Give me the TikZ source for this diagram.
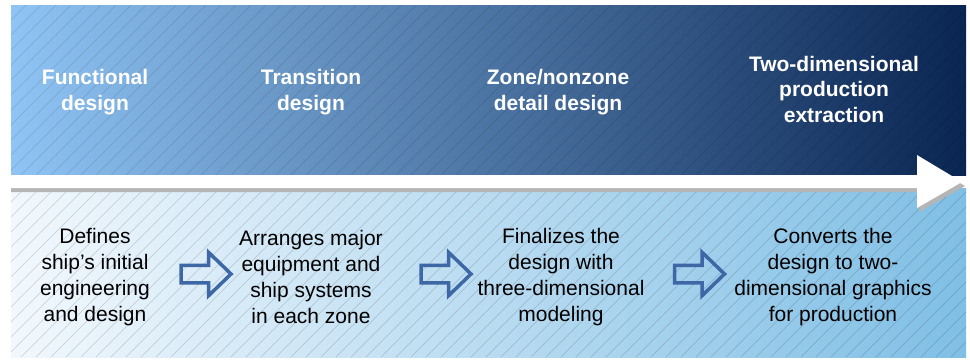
\documentclass[tikz,border=0pt]{standalone}
\usepackage{fontspec}
\setmainfont{Liberation Sans}
\usetikzlibrary{shapes.arrows}
\definecolor{topL}{HTML}{8FC4F4}
\definecolor{topM}{HTML}{4C79AB}
\definecolor{topR}{HTML}{0A2552}
\definecolor{botL}{HTML}{F2F8FD}
\definecolor{botM}{HTML}{C2E0F2}
\definecolor{botR}{HTML}{80BFE5}
\definecolor{arrowblue}{HTML}{3E67A6}
\definecolor{shadowgray}{HTML}{B5B5B5}
\begin{document}
\begin{tikzpicture}[x=1pt,y=-1pt,
 heading/.style={text=white,font=\fontsize{21}{25.5}\selectfont\bfseries,align=center,inner sep=0pt},
 body/.style={text=black,font=\fontsize{21}{26}\selectfont,align=center,inner sep=0pt},
 blockarrow/.style={single arrow,draw=arrowblue,line width=3.5pt,fill=none,
   minimum height=50pt,inner sep=0pt,inner ysep=7pt,
   single arrow head extend=13pt,single arrow tip angle=88,line join=miter},
 hatchtop/.style={draw=black,opacity=0.11,line width=0.7pt},
 hatchbot/.style={draw=black,opacity=0.17,line width=0.6pt}]
\useasboundingbox (0,0) rectangle (970,360);
\fill[white] (0,0) rectangle (970,360);
% bands
\shade[left color=topL,middle color=topM,right color=topR] (11,5) rectangle (966,175);
\shade[left color=botL,middle color=botM,right color=botR] (11,188) rectangle (966,357);
\begin{scope}
\clip (11,5) rectangle (966,175);
\foreach \k in {0,...,76} \draw[hatchtop] ({11+\k*15-170},175) -- ++(170,-170);
\end{scope}
\begin{scope}
\clip (11,188) rectangle (966,357);
\foreach \k in {0,...,76} \draw[hatchbot] ({11+\k*15-170},357) -- ++(170,-170);
\end{scope}
% big white timeline arrow with shadow
\fill[shadowgray] (11,179) -- (919,179) -- (919,159) -- (965,186) -- (919,212) -- (919,192) -- (11,192) -- cycle;
\fill[white] (11,175) -- (917,175) -- (917,155) -- (962,182) -- (917,208) -- (917,188) -- (11,188) -- cycle;
% headings
\node[heading] (h1) at (95,92) {Functional\\design};
\node[heading] (h2) at (311,92) {Transition\\design};
\node[heading] (h3) at (558,92) {Zone/nonzone\\detail design};
\node[heading] (h4) at (834,89) {Two-dimensional\\production\\extraction};
% descriptions
\node[body] (b1) at (95,277) {Defines\\ship’s initial\\engineering\\and design};
\node[body] (b2) at (311,277) {Arranges major\\equipment and\\ship systems\\in each zone};
\node[body] (b3) at (561,277) {Finalizes the\\design with\\three-dimensional\\modeling};
\node[body] (b4) at (833,277) {Converts the\\design to two-\\dimensional graphics\\for production};
% block arrows
\node[blockarrow] (a1) at (201.5,274) {};
\node[blockarrow] (a2) at (441.5,274) {};
\node[blockarrow] (a3) at (695,274) {};
\end{tikzpicture}
\end{document}
